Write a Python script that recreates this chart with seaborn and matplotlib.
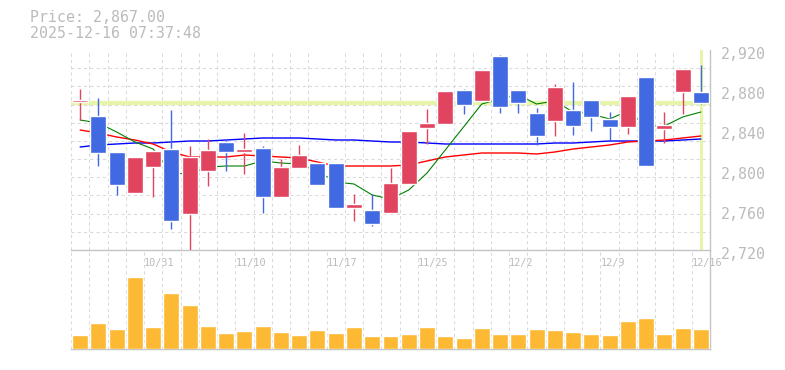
import pandas as pd
import seaborn as sns
from matplotlib import pyplot as plt
from matplotlib import transforms

# daily bars 2025-10-27 .. 2025-12-16
dates = ["10/27", "10/28", "10/29", "10/30", "10/31", "11/4", "11/5", "11/6", "11/7",
         "11/10", "11/11", "11/12", "11/13", "11/14", "11/17", "11/18", "11/19", "11/20",
         "11/21", "11/25", "11/26", "11/27", "11/28", "12/1", "12/2", "12/3", "12/4",
         "12/5", "12/8", "12/9", "12/10", "12/11", "12/12", "12/15", "12/16"]
opens = [2868, 2854, 2818, 2777, 2803, 2821, 2756, 2799, 2828, 2818, 2822, 2773, 2802,
         2807, 2807, 2762, 2760, 2757, 2786, 2842, 2846, 2880, 2869, 2914, 2880, 2857,
         2849, 2860, 2870, 2851, 2843, 2893, 2841, 2878, 2878]
highs = [2881, 2872, 2818, 2813, 2819, 2860, 2824, 2831, 2831, 2837, 2824, 2811, 2825,
         2807, 2807, 2776, 2776, 2802, 2839, 2861, 2879, 2881, 2900, 2915, 2880, 2862,
         2886, 2888, 2870, 2858, 2874, 2893, 2858, 2901, 2905]
lows = [2850, 2804, 2775, 2777, 2773, 2741, 2716, 2784, 2799, 2796, 2757, 2773, 2802,
        2785, 2762, 2749, 2744, 2757, 2786, 2826, 2846, 2856, 2869, 2857, 2857, 2825,
        2834, 2835, 2839, 2830, 2836, 2804, 2827, 2856, 2866]
closes = [2870, 2817, 2785, 2813, 2819, 2749, 2813, 2820, 2818, 2821, 2773, 2803, 2815,
          2785, 2762, 2766, 2746, 2787, 2839, 2847, 2879, 2865, 2900, 2863, 2867, 2834,
          2883, 2844, 2853, 2843, 2874, 2804, 2845, 2901, 2867]
volume = [14, 26, 20, 72, 22, 56, 44, 23, 16, 18, 23, 17, 14, 19, 16, 22, 13, 13, 15,
          22, 13, 11, 21, 15, 15, 20, 19, 17, 15, 14, 28, 31, 15, 21, 20]
ma5 = [2850, 2847, 2838, 2828, 2821, 2797, 2796, 2803, 2804, 2804, 2809, 2807, 2806,
       2799, 2788, 2786, 2775, 2771, 2780, 2797, 2820, 2843, 2866, 2871, 2875, 2866,
       2869, 2858, 2856, 2851, 2859, 2844, 2844, 2853, 2858]
ma25 = [2840, 2837, 2833, 2830, 2826, 2818, 2813, 2813, 2813, 2815, 2814, 2813, 2812,
        2808, 2804, 2804, 2804, 2804, 2805, 2809, 2813, 2815, 2817, 2817, 2817, 2816,
        2818, 2821, 2823, 2825, 2828, 2829, 2830, 2832, 2834]
ma75 = [2823, 2825, 2826, 2827, 2827, 2828, 2829, 2829, 2830, 2831, 2832, 2832, 2832,
        2831, 2830, 2830, 2829, 2828, 2828, 2827, 2826, 2826, 2826, 2826, 2826, 2826,
        2827, 2827, 2828, 2829, 2829, 2829, 2829, 2830, 2831]
label_dates = ["10/31", "11/10", "11/17", "11/25", "12/2", "12/9", "12/16"]
price_ticks = [2720, 2760, 2800, 2840, 2880, 2920]
last_price = 2867

sns.set_style("white")
plt.rcParams["font.family"] = ["DejaVu Sans Mono"]

grey = "#bbbbbb"
up_col, down_col = "#e0445f", "#4169e1"
hl_col = "#e6f5aa"
grid_kw = dict(color="#d9d9d9", linestyle=(0, (3, 3)), linewidth=0.75)

df = pd.DataFrame({"date": dates, "open": opens, "high": highs, "low": lows,
                   "close": closes, "volume": volume,
                   "ma5": ma5, "ma25": ma25, "ma75": ma75})
df["pos"] = range(len(df))
df["color"] = [up_col if c >= o else down_col for o, c in zip(df["open"], df["close"])]
n = len(df)

fig = plt.figure(figsize=(7.85, 3.70), dpi=100)
ax = fig.add_axes([71 / 785, 120 / 370, 639 / 785, 200 / 370])
axv = fig.add_axes([71 / 785, 21 / 370, 639 / 785, 99 / 370])
axv.set_facecolor("none")

# price panel
ax.axhline(last_price, color=hl_col, lw=3, zorder=1.5)
ax.axvline(n - 1, color=hl_col, lw=2.2, zorder=1.5)

sns.lineplot(data=df, x="pos", y="ma75", ax=ax, color="#0000ff", lw=1.0, zorder=2)
sns.lineplot(data=df, x="pos", y="ma25", ax=ax, color="#ff0000", lw=1.0, zorder=2)
sns.lineplot(data=df, x="pos", y="ma5", ax=ax, color="#008000", lw=0.8, zorder=2)

ax.vlines(df["pos"], df["low"], df["high"], colors=df["color"], lw=1, zorder=3)
body = (df["close"] - df["open"]).abs().clip(lower=1.5)
ax.bar(df["pos"], body, bottom=df[["open", "close"]].min(axis=1), width=0.875,
       color=df["color"], zorder=4)

ax.set_xlim(-0.5, n - 0.5)
ax.set_ylim(2720, 2920)
ax.set_xlabel("")
ax.set_ylabel("")

ax.set_xticks([p - 0.5 for p in df["pos"]], minor=True)
ax.set_yticks([2720 + 200 * k / 11 for k in range(1, 12)], minor=True)
ax.grid(False)
ax.grid(True, which="minor", **grid_kw)

lab_pos = [dates.index(d) - 0.5 for d in label_dates]
ax.set_xticks(lab_pos)
ax.set_xticklabels(label_dates, ha="left")
ax.yaxis.tick_right()
ax.set_yticks(price_ticks)
ax.set_yticklabels([f"{v:,}" for v in price_ticks])
ax.tick_params(axis="x", which="major", length=0, pad=5.5, labelsize=7.4, labelcolor=grey)
ax.tick_params(axis="y", which="major", length=0, pad=7.5, labelsize=10.7, labelcolor=grey)
ax.tick_params(which="minor", length=0)
# price labels sit a few pixels below their level
shift = transforms.ScaledTranslation(0, -3 / 100, fig.dpi_scale_trans)
for lab in ax.get_yticklabels():
    lab.set_transform(lab.get_transform() + shift)
for s in ["left", "top"]:
    ax.spines[s].set_visible(False)
for s in ["right", "bottom"]:
    ax.spines[s].set_color("#c4c4c4")
    ax.spines[s].set_linewidth(1.0)

# volume panel
sns.barplot(data=df, x="pos", y="volume", ax=axv, color="#fdb933", saturation=1,
            width=0.875, errorbar=None, zorder=3)
axv.set_xlim(-0.5, n - 0.5)
axv.set_ylim(0, 99)
axv.set_xlabel("")
axv.set_ylabel("")
axv.set_xticks([p - 0.5 for p in df["pos"]], minor=True)
axv.set_xticks([])
axv.set_yticks([])
axv.grid(False)
axv.grid(True, which="minor", axis="x", **grid_kw)
axv.tick_params(which="minor", length=0)
for s in ["left", "top"]:
    axv.spines[s].set_visible(False)
for s in ["right", "bottom"]:
    axv.spines[s].set_color("#c4c4c4")
    axv.spines[s].set_linewidth(1.0)

fig.text(30 / 785, 1 - 17 / 370, "Price: 2,867.00", va="center", ha="left",
         fontsize=10.7, color=grey)
fig.text(30 / 785, 1 - 33 / 370, "2025-12-16 07:37:48", va="center", ha="left",
         fontsize=10.7, color=grey)

fig.savefig("out.png", dpi=100)
